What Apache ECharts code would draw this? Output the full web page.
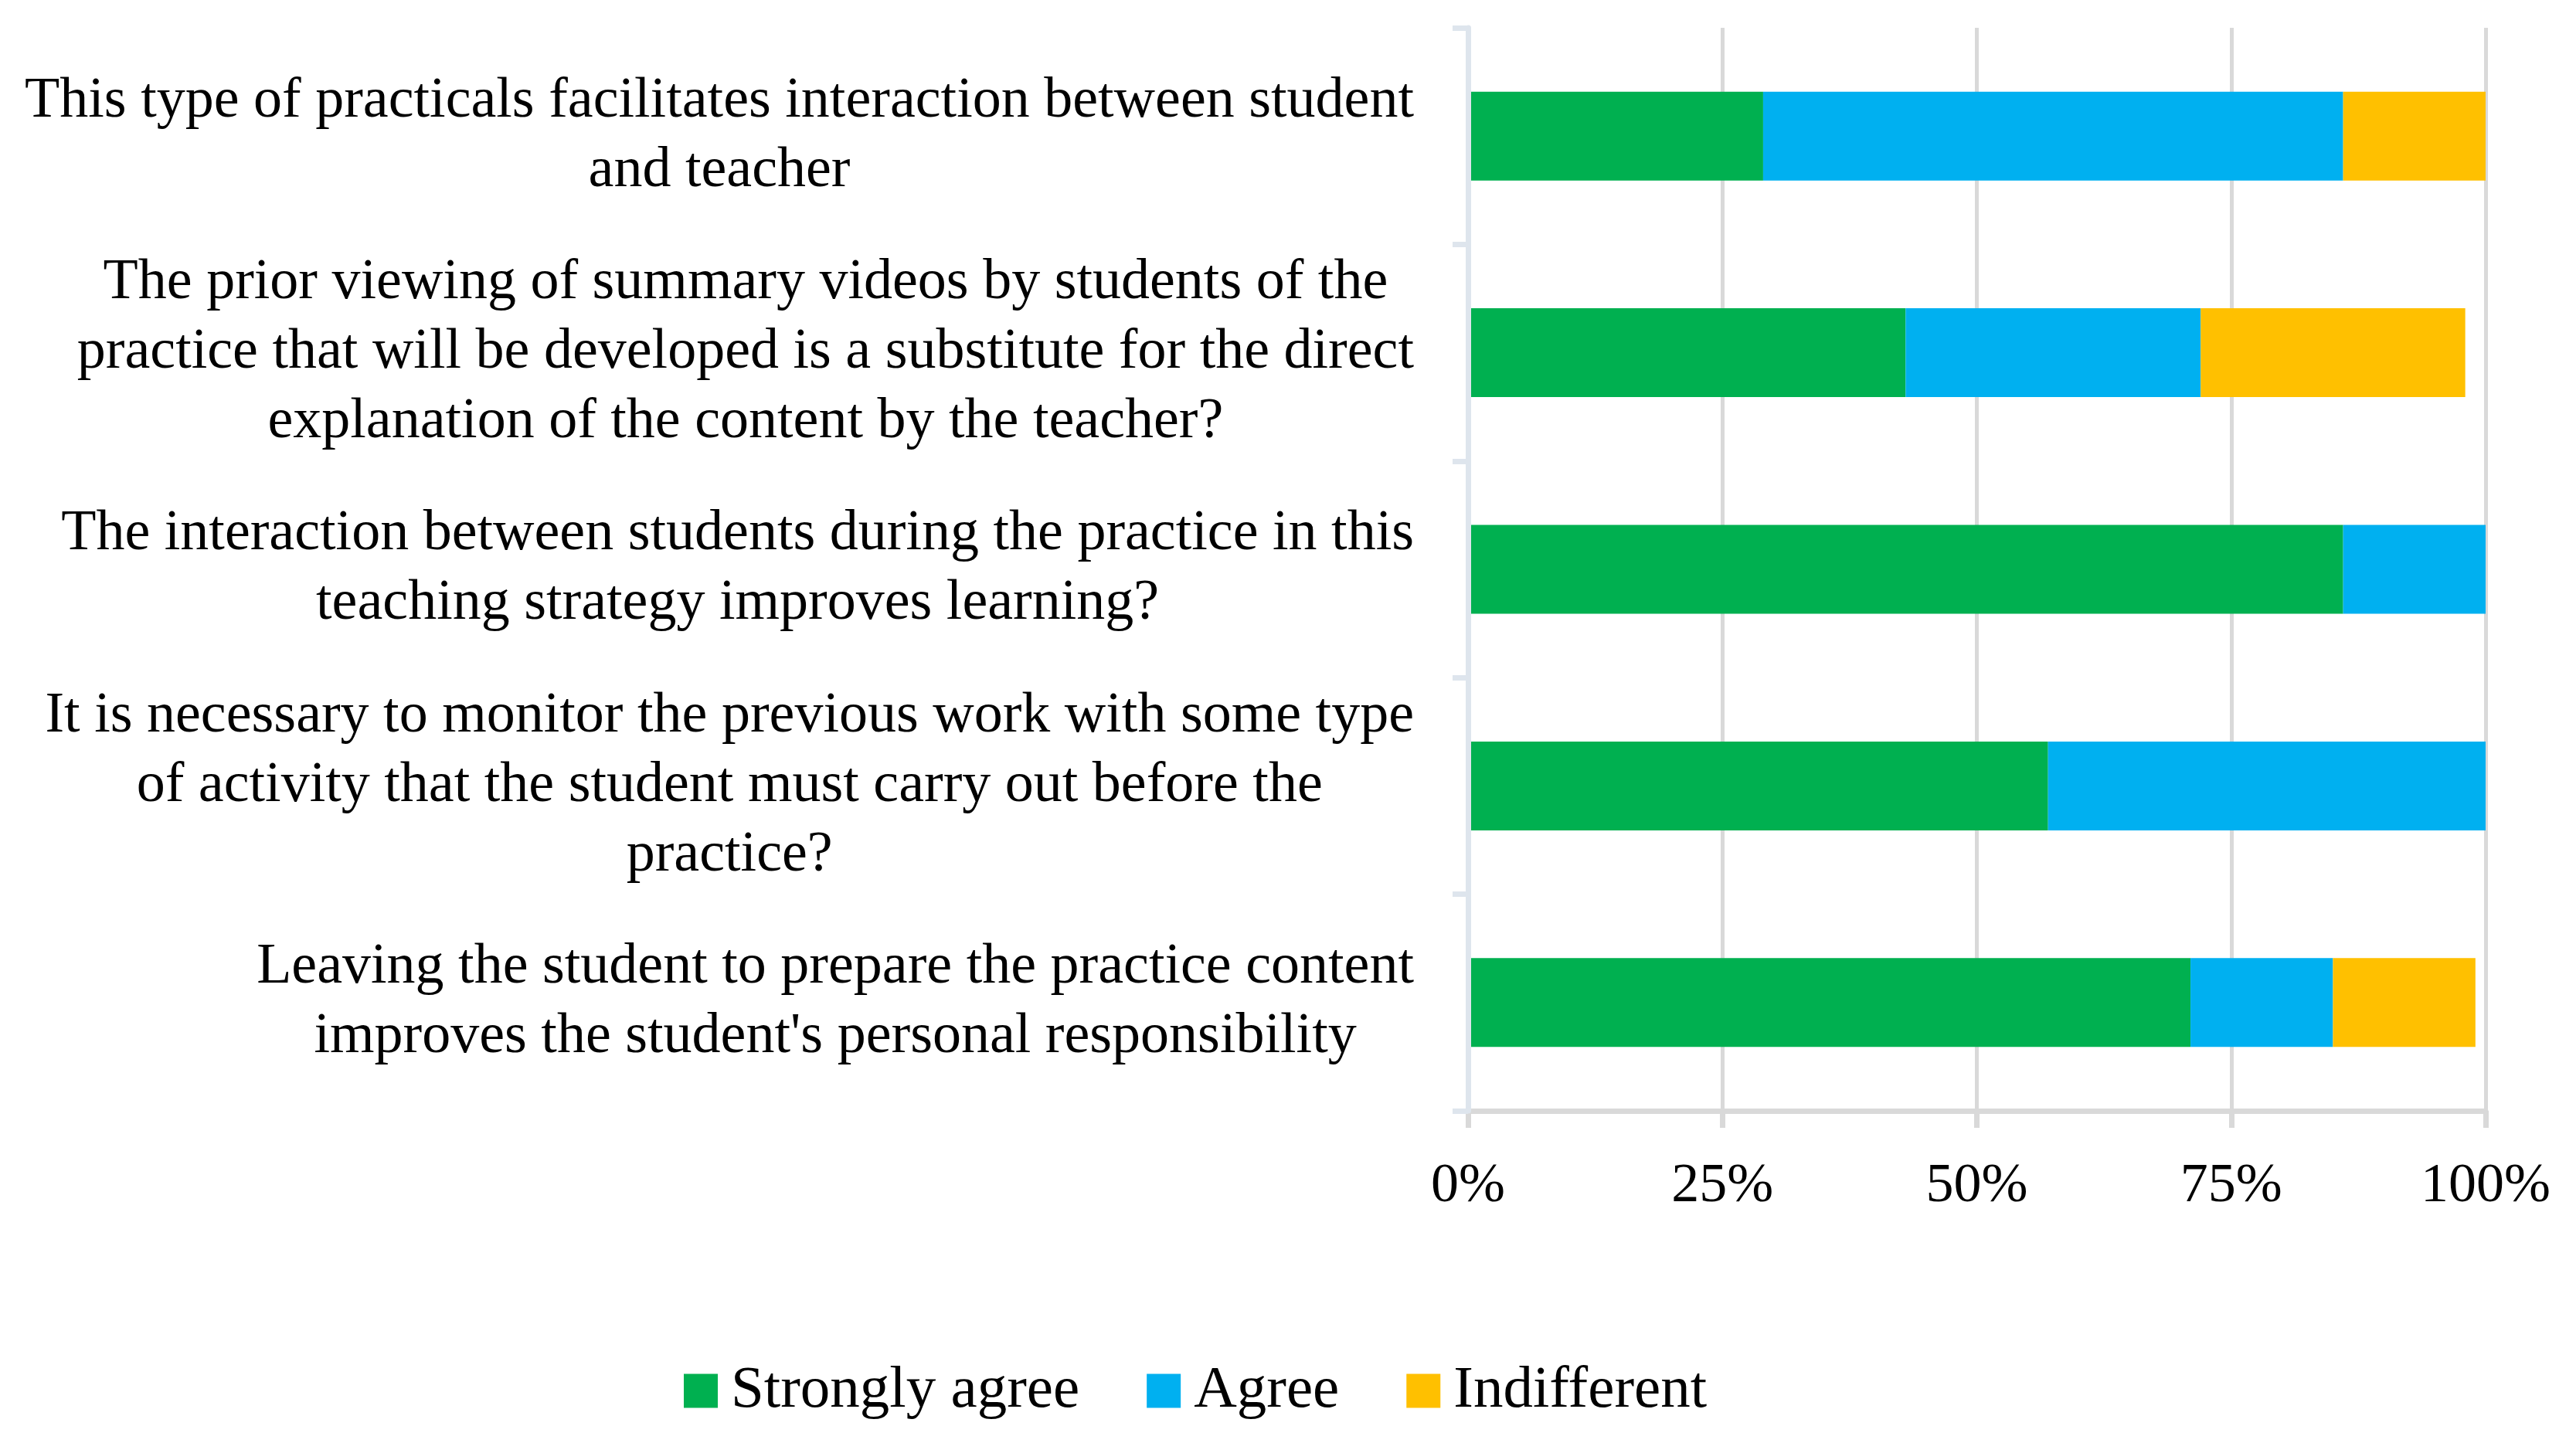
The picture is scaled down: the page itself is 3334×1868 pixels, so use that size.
<!DOCTYPE html>
<html>
<head>
<meta charset="utf-8">
<script src="https://cdn.jsdelivr.net/npm/echarts@6/dist/echarts.min.js"></script>
<style>
html,body{margin:0;padding:0;background:#fff;}
#chart{width:3334px;height:1868px;}
</style>
</head>
<body>
<div id="chart"></div>
<script>
const categories = [
  "This type of practicals facilitates interaction between student\nand teacher",
  "The prior viewing of summary videos by students of the\npractice that will be developed is a substitute for the direct\nexplanation of the content by the teacher?",
  "The interaction between students during the practice in this\nteaching strategy improves learning?",
  "It is necessary to monitor the previous work with some type\nof activity that the student must carry out before the\npractice?",
  "Leaving the student to prepare the practice content\nimproves the student's personal responsibility"
];
const seriesNames = ["Strongly agree", "Agree", "Indifferent"];
const stronglyAgree = [29, 43, 86, 57, 71];
const agree = [57, 29, 14, 43, 14];
const indifferent = [14, 26, 0, 0, 14];
const xTicks = [0, 25, 50, 75, 100];

const FONT = "'Liberation Serif', serif";
const colors = ["#00B050", "#00B0F0", "#FFC000"];

const chart = echarts.init(document.getElementById('chart'), null, {renderer: 'canvas'});
const dataSets = [stronglyAgree, agree, indifferent];

const option = {
  backgroundColor: '#ffffff',
  animation: false,
  grid: {left: 1900, right: 117, top: 36, bottom: 430, containLabel: false, outerBoundsMode: 'none'},
  legend: {
    left: 880, top: 1757,
    itemWidth: 44, itemHeight: 44, itemGap: 87,
    icon: 'rect',
    textStyle: {fontFamily: FONT, fontSize: 77, color: '#000', padding: [0, 0, 0, 12]},
    data: seriesNames
  },
  xAxis: {
    type: 'value', min: xTicks[0], max: xTicks[xTicks.length - 1], interval: 25,
    axisLine: {show: true, lineStyle: {color: '#D9D9D9', width: 7}},
    axisTick: {show: true, length: 22, lineStyle: {color: '#D9D9D9', width: 7}},
    splitLine: {show: true, lineStyle: {color: '#D9D9D9', width: 5}},
    axisLabel: {formatter: '{value}%', fontFamily: FONT, fontSize: 72, color: '#000', margin: 62}
  },
  yAxis: {
    type: 'category', inverse: true, data: categories, z: 5,
    axisLine: {show: true, lineStyle: {color: '#DEE5ED', width: 7}},
    axisTick: {show: true, length: 20, lineStyle: {color: '#DEE5ED', width: 7}},
    splitLine: {show: false},
    axisLabel: {
      margin: 70, color: '#000', fontFamily: FONT, fontSize: 74, lineHeight: 90,
      formatter: function (v) {
        return v.split('\n').map(function (l) { return '{c|' + l + '}'; }).join('\n');
      },
      rich: {c: {align: 'center', fontFamily: FONT, fontSize: 74, lineHeight: 90, color: '#000'}}
    }
  },
  series: dataSets.map(function (d, i) {
    return {
      name: seriesNames[i], type: 'bar', stack: 'total', data: d,
      barWidth: 115, itemStyle: {color: colors[i]}
    };
  })
};
chart.setOption(option);
</script>
</body>
</html>
